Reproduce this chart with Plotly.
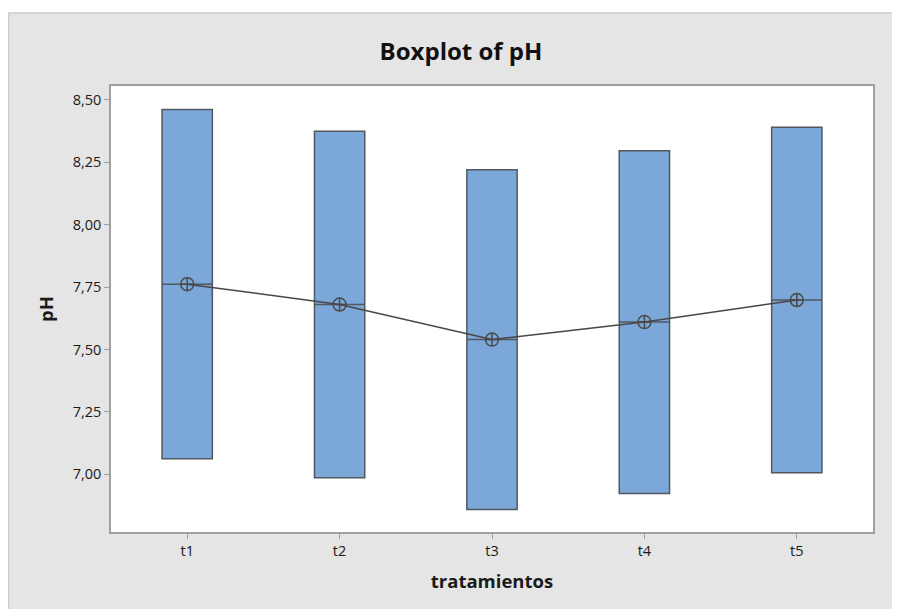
import plotly.graph_objects as go

# Data: two observations per treatment (box spans min..max)
categories = ["t1", "t2", "t3", "t4", "t5"]
obs_low = [7.062, 6.986, 6.859, 6.923, 7.006]
obs_high = [8.461, 8.374, 8.220, 8.296, 8.390]
y_ticks = [7.00, 7.25, 7.50, 7.75, 8.00, 8.25, 8.50]

means = [(a + b) / 2 for a, b in zip(obs_low, obs_high)]
medians = means[:]

FONT = "Open Sans"
TXT = "#1a1a1a"

fig = go.Figure()
fig.add_trace(go.Box(
    x=categories,
    q1=obs_low, median=medians, q3=obs_high,
    lowerfence=obs_low, upperfence=obs_high,
    fillcolor="#7ba7d9",
    line=dict(color="#505860", width=1.5),
    whiskerwidth=0,
    width=0.33,
    boxpoints=False,
    hoverinfo="skip",
    showlegend=False,
))
fig.add_trace(go.Scatter(
    x=categories, y=means,
    mode="lines+markers",
    line=dict(color="#474747", width=1.5),
    marker=dict(symbol="circle-cross-open", size=13,
                color="#4a4a4a", line=dict(color="#4a4a4a", width=1.5)),
    hoverinfo="skip",
    showlegend=False,
))

# page body has an 8px margin, so the figure is sized to end at the window edge
W, H = 892, 601
L, R, T, B = 103, 27, 78, 77
pw, ph = W - L - R, H - T - B

fig.update_layout(
    width=W, height=H,
    margin=dict(l=L, r=R, t=T, b=B),
    paper_bgcolor="white",
    plot_bgcolor="white",
    separators=",.",
    font=dict(family=FONT, color=TXT, size=14),
    title=dict(text="<b>Boxplot of pH</b>", x=453 / W, xref="container",
               y=1 - 44 / H, yref="container", xanchor="center", yanchor="middle",
               font=dict(family=FONT, size=24, color="#111111")),
    shapes=[
        dict(type="rect", xref="paper", yref="paper", layer="below",
             x0=(0.5 - L) / pw, x1=(W + 5 - L) / pw,
             y0=-(B + 5) / ph, y1=(H - B - 5) / ph,
             fillcolor="#e5e5e5", line=dict(color="#cccccc", width=1.5)),
        dict(type="rect", xref="paper", yref="paper", layer="below",
             x0=0, x1=1, y0=0, y1=1, fillcolor="white", line=dict(width=0)),
    ],
)
fig.update_xaxes(
    type="category", range=[-0.5, 4.5],
    showline=True, mirror=True, linecolor="#a0a0a0", linewidth=1.5,
    ticks="outside", ticklen=5, tickcolor="#a0a0a0", tickwidth=1,
    showgrid=False, zeroline=False,
    tickfont=dict(family=FONT, size=14.5, color=TXT),
    title=dict(text="<b>tratamientos</b>", standoff=16,
               font=dict(family=FONT, size=18.5, color=TXT)),
)
fig.update_yaxes(
    range=[6.769, 8.555],
    tickvals=y_ticks, tickformat=".2f",
    showline=True, mirror=True, linecolor="#a0a0a0", linewidth=1.5,
    ticks="outside", ticklen=5, tickcolor="#a0a0a0", tickwidth=1,
    showgrid=False, zeroline=False,
    tickfont=dict(family=FONT, size=14.5, color=TXT),
    title=dict(text="<b>pH</b>", standoff=14,
               font=dict(family=FONT, size=18.5, color=TXT)),
)

fig.write_html("out.html")
